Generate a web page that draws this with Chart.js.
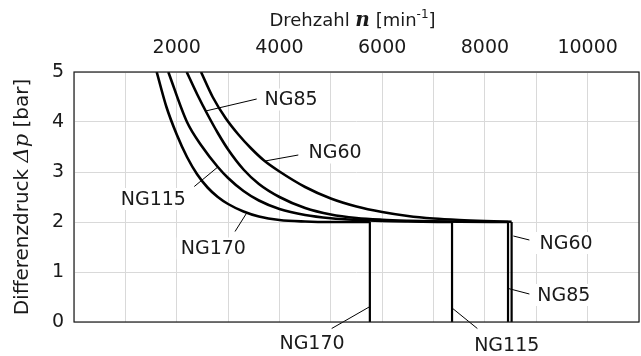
<!DOCTYPE html>
<html>
<head>
<meta charset="utf-8">
<script src="https://cdn.jsdelivr.net/npm/chart.js@4.4.1/dist/chart.umd.min.js"></script>
<style>
  html, body { margin: 0; padding: 0; background: #fff; }
  canvas { display: block; }
</style>
</head>
<body>
<canvas id="dpChart" width="641" height="356"></canvas>
<script>
// pump sizes and the operating limit curves: speed n [1/min] vs. differential pressure dp [bar]
const sizes = ['NG170', 'NG115', 'NG85', 'NG60'];

const ng170Speed = [1610, 1800, 2000, 2200, 2400, 2600, 2800, 3000, 3300, 3600, 4000, 4500, 5000, 5760];
const ng170Dp    = [5.0, 4.3, 3.75, 3.3, 2.95, 2.69, 2.5, 2.36, 2.21, 2.11, 2.04, 2.01, 2.0, 2.0];

const ng115Speed = [1836, 2200, 2500, 2800, 3000, 3300, 3600, 4000, 4500, 5000, 5500, 6000, 6500, 7360];
const ng115Dp    = [5.0, 4.0, 3.5, 3.1, 2.88, 2.62, 2.43, 2.26, 2.14, 2.075, 2.04, 2.02, 2.01, 2.0];

const ng85Speed = [2194, 2400, 2600, 2800, 3000, 3300, 3600, 4000, 4500, 5000, 5500, 6000, 6500, 7000, 7500, 8450];
const ng85Dp    = [5.0, 4.55, 4.15, 3.78, 3.45, 3.05, 2.76, 2.5, 2.28, 2.15, 2.08, 2.045, 2.025, 2.012, 2.005, 2.0];

const ng60Speed = [2473, 2700, 2950, 3200, 3450, 3700, 4000, 4500, 5000, 5500, 6000, 6500, 7000, 7500, 8000, 8520];
const ng60Dp    = [5.0, 4.5, 4.08, 3.75, 3.47, 3.23, 3.01, 2.7, 2.47, 2.31, 2.2, 2.12, 2.07, 2.04, 2.02, 2.005];

// maximum speed of each size, where the curve drops to zero
const maxSpeed = [5760, 7360, 8450, 8520];
const floorDp = 2;

const speedLabels = [2000, 4000, 6000, 8000, 10000];
const dpLabels = [0, 1, 2, 3, 4, 5];

const curveSpeeds = [ng170Speed, ng115Speed, ng85Speed, ng60Speed];
const curveDps = [ng170Dp, ng115Dp, ng85Dp, ng60Dp];

const datasets = [];
sizes.forEach((name, i) => {
  datasets.push({
    label: name,
    data: curveSpeeds[i].map((n, k) => ({ x: n, y: curveDps[i][k] })),
    borderColor: '#000',
    borderWidth: 2.6,
    cubicInterpolationMode: 'monotone',
    pointRadius: 0,
    fill: false
  });
  datasets.push({
    label: name + ' max',
    data: [{ x: maxSpeed[i], y: floorDp }, { x: maxSpeed[i], y: 0 }],
    borderColor: '#000',
    borderWidth: 2.2,
    tension: 0,
    pointRadius: 0,
    fill: false
  });
});

// callouts: text position and leader line, in axis units
const callouts = [
  { text: 'NG85',  n: 4225, dp: 4.45, from: [2564, 4.22], to: [3557, 4.46] },
  { text: 'NG60',  n: 5082, dp: 3.39, from: [3719, 3.22], to: [4367, 3.34] },
  { text: 'NG115', n: 1545, dp: 2.46, from: [2800, 3.1], to: [2342, 2.71] },
  { text: 'NG170', n: 2713, dp: 1.47, from: [3368, 2.19], to: [3135, 1.81] },
  { text: 'NG60',  n: 9579, dp: 1.58, from: [8554, 1.72], to: [8866, 1.64] },
  { text: 'NG85',  n: 9535, dp: 0.54, from: [8456, 0.67], to: [8866, 0.56] },
  { text: 'NG170', n: 4634, dp: -0.43, from: [5763, 0.31], to: [5017, -0.13] },
  { text: 'NG115', n: 8425, dp: -0.46, from: [7373, 0.27], to: [7853, -0.13] }
];

const textFont = '"DejaVu Sans", Verdana, sans-serif';
const mathFont = '"DejaVu Serif", "Liberation Serif", serif';

const calloutPlugin = {
  id: 'callouts',
  beforeDatasetsDraw(chart) {
    const { ctx, scales: { x, y } } = chart;
    ctx.save();
    ctx.font = '19px ' + textFont;
    ctx.textAlign = 'center';
    ctx.textBaseline = 'middle';
    callouts.forEach(c => {
      const cx = x.getPixelForValue(c.n);
      const cy = y.getPixelForValue(c.dp);
      const w = ctx.measureText(c.text).width;
      ctx.fillStyle = '#fff';
      ctx.fillRect(cx - w / 2 - 4, cy - 11, w + 8, 22);
      ctx.strokeStyle = '#000';
      ctx.lineWidth = 1;
      ctx.beginPath();
      ctx.moveTo(x.getPixelForValue(c.from[0]), y.getPixelForValue(c.from[1]));
      ctx.lineTo(x.getPixelForValue(c.to[0]), y.getPixelForValue(c.to[1]));
      ctx.stroke();
      ctx.fillStyle = '#1a1a1a';
      ctx.fillText(c.text, cx, cy + 1);
    });
    ctx.restore();
  },
  afterDraw(chart) {
    const { ctx, chartArea: a } = chart;
    ctx.save();
    // plot frame
    ctx.strokeStyle = '#1a1a1a';
    ctx.lineWidth = 1.2;
    ctx.strokeRect(a.left, a.top, a.right - a.left, a.bottom - a.top);

    // axis titles with italic symbols
    const drawParts = (parts, startX, baseY) => {
      let px = startX;
      parts.forEach(p => {
        ctx.font = p.font;
        ctx.fillText(p.t, px, baseY + (p.dy || 0));
        px += ctx.measureText(p.t).width;
      });
    };
    const widthOf = parts => parts.reduce((s, p) => { ctx.font = p.font; return s + ctx.measureText(p.t).width; }, 0);

    ctx.fillStyle = '#1a1a1a';
    ctx.textAlign = 'left';
    ctx.textBaseline = 'alphabetic';

    const xTitle = [
      { t: 'Drehzahl ', font: '18px ' + textFont },
      { t: 'n', font: 'italic bold 20px ' + mathFont },
      { t: ' [min', font: '18px ' + textFont },
      { t: '-1', font: '12px ' + textFont, dy: -8 },
      { t: ']', font: '18px ' + textFont }
    ];
    const xw = widthOf(xTitle);
    drawParts(xTitle, (a.left + a.right) / 2 - 4 - xw / 2, 26);

    const yTitle = [
      { t: 'Differenzdruck ', font: '20px ' + textFont },
      { t: 'Δp', font: 'italic 21px ' + mathFont },
      { t: ' [bar]', font: '20px ' + textFont }
    ];
    const yw = widthOf(yTitle);
    ctx.translate(28, (a.top + a.bottom) / 2);
    ctx.rotate(-Math.PI / 2);
    drawParts(yTitle, -yw / 2, 0);
    ctx.restore();
  }
};

const config = {
  type: 'line',
  data: { datasets: datasets },
  options: {
    responsive: false,
    animation: false,
    layout: { padding: { left: 0, right: 2, top: 0, bottom: 34 } },
    scales: {
      x: {
        type: 'linear',
        position: 'top',
        min: 0,
        max: 11000,
        afterFit: s => { s.height = 72; s.paddingLeft = 0; s.paddingRight = 0; },
        grid: { color: '#d9d9d9', lineWidth: 1, drawTicks: false },
        border: { display: false },
        ticks: {
          stepSize: 1000,
          padding: 13,
          color: '#1a1a1a',
          font: { family: textFont, size: 19 },
          maxRotation: 0,
          autoSkip: false,
          callback: v => speedLabels.includes(v) ? String(v) : ''
        }
      },
      y: {
        min: 0,
        max: 5,
        afterFit: s => { s.width = 74; s.paddingTop = 0; s.paddingBottom = 0; },
        grid: { color: '#d9d9d9', lineWidth: 1, drawTicks: false },
        border: { display: false },
        ticks: {
          stepSize: 1,
          padding: 10,
          color: '#1a1a1a',
          font: { family: textFont, size: 19 },
          callback: v => dpLabels.includes(v) ? String(v) : ''
        }
      }
    },
    plugins: {
      legend: { display: false },
      tooltip: { enabled: false }
    }
  },
  plugins: [calloutPlugin]
};

const ctx = document.getElementById('dpChart').getContext('2d');
const dpChart = new Chart(ctx, config);
</script>
</body>
</html>
